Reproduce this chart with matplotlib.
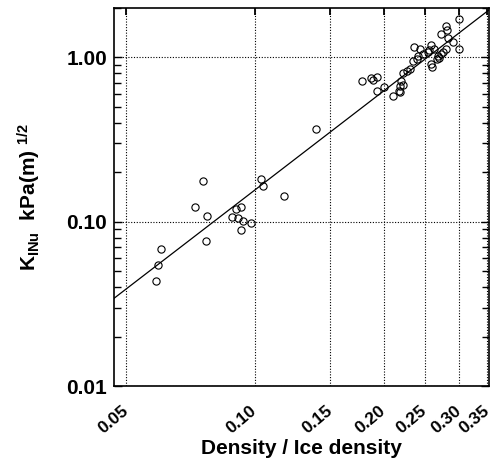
import numpy as np
import matplotlib
matplotlib.use('Agg')
import matplotlib.pyplot as plt
from matplotlib.ticker import FixedLocator, NullLocator, LogLocator, NullFormatter

plt.rcParams['font.family'] = ['Liberation Sans', 'DejaVu Sans']
plt.rcParams['mathtext.fontset'] = 'custom'
plt.rcParams['mathtext.rm'] = 'Liberation Sans:bold'
plt.rcParams['mathtext.bf'] = 'Liberation Sans:bold'
plt.rcParams['mathtext.it'] = 'Liberation Sans:bold'

# relative density (snow density / ice density) and fracture toughness K_INu
rel_density = [
    0.0758, 0.0725, 0.0773, 0.0770, 0.0603, 0.0592, 0.0587,
    0.1033, 0.1042, 0.1171, 0.0929, 0.0904, 0.0884, 0.0911, 0.0940, 0.0979, 0.0929,
    0.1389,
    0.300, 0.280, 0.281, 0.272, 0.283, 0.290, 0.300,
    0.236, 0.243, 0.258, 0.256, 0.254, 0.280, 0.276, 0.273, 0.268, 0.270, 0.266,
    0.258, 0.259, 0.247, 0.241, 0.239, 0.234, 0.230, 0.227, 0.222, 0.220, 0.218,
    0.222, 0.217, 0.218, 0.210, 0.201, 0.193, 0.193, 0.189, 0.187, 0.178, 0.262,
]
k_inu = [
    0.178, 0.1227, 0.1082, 0.0769, 0.0685, 0.0544, 0.0439,
    0.181, 0.165, 0.144, 0.1227, 0.1189, 0.1067, 0.1047, 0.1014, 0.098, 0.0889,
    0.365,
    1.712, 1.558, 1.473, 1.393, 1.306, 1.234, 1.124,
    1.160, 1.124, 1.189, 1.113, 1.073, 1.124, 1.082, 1.047, 1.023, 0.986, 0.976,
    0.910, 0.869, 1.047, 1.023, 0.976, 0.953, 0.849, 0.829, 0.802, 0.720, 0.666,
    0.678, 0.626, 0.612, 0.583, 0.656, 0.626, 0.755, 0.727, 0.745, 0.720, 1.124,
]

# power-law fit K = a * rho^b
fit_a = 15.6
fit_b = 2.0

x_ticks = [0.05, 0.10, 0.15, 0.20, 0.25, 0.30, 0.35]
x_labels = ['0.05', '0.10', '0.15', '0.20', '0.25', '0.30', '0.35']
y_ticks = [0.01, 0.1, 1.0]
y_labels = ['0.01', '0.10', '1.00']

fig = plt.figure(figsize=(4.93, 4.63), dpi=100)
ax = fig.add_axes([0.231, 0.166, 0.761, 0.817])

ax.set_xscale('log')
ax.set_yscale('log')
x_lo, x_hi = 0.0468, 0.353
ax.set_xlim(x_lo, x_hi)
ax.set_ylim(0.01, 2.0)

xf = np.array([x_lo, x_hi])
ax.plot(xf, fit_a * xf ** fit_b, color='black', linewidth=0.9, zorder=2)
ax.plot(rel_density, k_inu, linestyle='none', marker='o', markersize=5.2,
        markerfacecolor='none', markeredgecolor='black', markeredgewidth=0.8, zorder=3)

ax.xaxis.set_major_locator(FixedLocator(x_ticks))
ax.xaxis.set_minor_locator(NullLocator())
ax.set_xticklabels(x_labels)
ax.yaxis.set_major_locator(FixedLocator(y_ticks))
ax.yaxis.set_minor_locator(LogLocator(base=10, subs=np.arange(2, 10)))
ax.yaxis.set_minor_formatter(NullFormatter())
ax.set_yticklabels(y_labels)

ax.grid(True, which='major', color='black', linestyle=(0, (1, 1.5)), linewidth=0.8)

ax.tick_params(axis='x', which='major', direction='in', bottom=False, top=True,
               length=5, width=1.3, labelsize=12.5, pad=16)
ax.tick_params(axis='y', which='major', direction='in', left=True, right=True,
               length=6, width=1.0, labelsize=15, pad=5)
ax.tick_params(axis='y', which='minor', direction='in', left=True, right=True,
               length=5, width=1.0)

for lab in ax.get_xticklabels():
    lab.set_rotation(40)
    lab.set_ha('right')
    lab.set_va('center')
    lab.set_rotation_mode('anchor')
    lab.set_fontweight('bold')
for lab in ax.get_yticklabels():
    lab.set_fontweight('bold')

for sp in ax.spines.values():
    sp.set_linewidth(1.2)

ax.set_xlabel('Density / Ice density', fontsize=15, fontweight='bold', labelpad=2)
ax.set_ylabel(r'$\mathregular{K_{INu}}$  kPa(m) $^{\mathregular{1/2}}$',
              fontsize=15, fontweight='bold', labelpad=17)

fig.savefig('out.png', dpi=100)
